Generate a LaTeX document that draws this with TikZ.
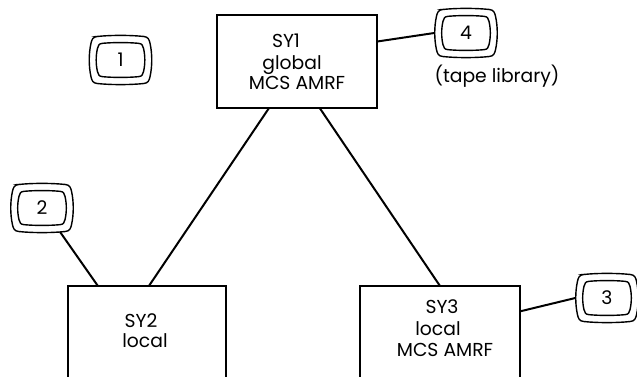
\documentclass[tikz,border=0pt]{standalone}
\usepackage{fontspec}
\setmainfont{Poppins}
\newcommand{\tubeface}{(-.74,-.98) .. controls (-.3,-1.04) and (.3,-1.04) .. (.74,-.98) .. controls (.88,-.96) and (.91,-.86) .. (.94,-.68) .. controls (1.01,-.25) and (1.01,.25) .. (.94,.68) .. controls (.91,.86) and (.88,.96) .. (.74,.98) .. controls (.3,1.04) and (-.3,1.04) .. (-.74,.98) .. controls (-.88,.96) and (-.91,.86) .. (-.94,.68) .. controls (-1.01,.25) and (-1.01,-.25) .. (-.94,-.68) .. controls (-.91,-.86) and (-.88,-.96) .. cycle}
\tikzset{
  sysbox/.style={draw,line width=1.2pt,inner sep=0pt,outer sep=0pt},
  label/.style={anchor=base,font=\fontsize{16}{18}\selectfont},
  monitor/.style={inner sep=0pt,outer sep=0pt,minimum width=1.9cm,minimum height=1.44cm,font=\fontsize{16}{18}\selectfont},
  link/.style={line width=1.7pt}
}
\begin{document}
\begin{tikzpicture}[x=0.03cm,y=-0.03cm]
\clip (0,0) rectangle (637,377);
\node[sysbox,minimum width=4.8cm,minimum height=2.79cm] (sy1) at (297,61.5) {};
\node[sysbox,minimum width=4.74cm,minimum height=3.27cm] (sy2) at (147,340.5) {};
\node[sysbox,minimum width=4.8cm,minimum height=3.27cm] (sy3) at (440,340.5) {};
\node[label] (sy1a) at (286,48) {SY1};
\node[label] (sy1b) at (292,70) {global};
\node[label] (sy1c) at (297,90) {MCS AMRF};
\node[label] (sy2a) at (141,328) {SY2};
\node[label] (sy2b) at (145,348) {local};
\node[label] (sy3a) at (442,314) {SY3};
\node[label] (sy3b) at (438,336) {local};
\node[label] (sy3c) at (445,357) {MCS AMRF};
\node[label] (tape) at (497,83) {(tape library)};
% the four monitors
\foreach \n/\x/\y in {1/120.5/60,2/42/208,3/607/298,4/466/33}{
  \node[monitor] (m\n) at (\x,\y) {\n};
  \foreach \hw/\hh in {31.5/24,24.5/17}
    \draw[line width=1.2pt,shift={(\x,\y)},xscale=\hw,yscale=\hh] \tubeface;
}
\draw[link] (sy1.239) -- (sy2.88);
\draw[link] (sy1.-64) -- (sy3.north);
\draw[link] (sy1.14) -- (m4.west);
\draw[link] (sy2.132) -- (m2.-53);
\draw[link] (sy3.20) -- (m3.west);
\end{tikzpicture}
\end{document}
